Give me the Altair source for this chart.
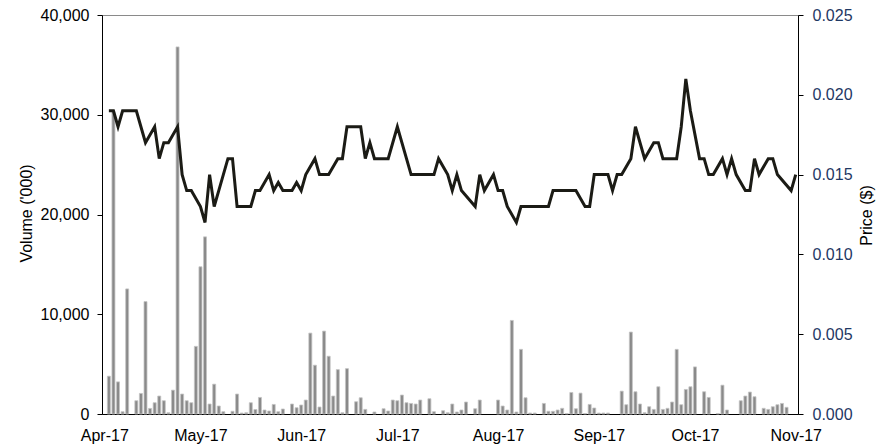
import altair as alt
import pandas as pd

N = None

# Trading-day slots (0..151)
volume = [
    0, 3790, 30300, 3220, 230, 12540, 0, 1330, 2060, 11270,
    560, 1130, 1800, 1330, 130, 2390, 36800, 2000, 1330, 1130,
    6780, 14760, 17760, 1000, 2990, 800, 230, 0, 270, 2000,
    100, 130, 1130, 450, 1660, 400, 300, 960, 230, 500,
    0, 1000, 630, 900, 1400, 8110, 4890, 700, 8310, 5790,
    1800, 4450, 130, 4550, 0, 1230, 1630, 460, 0, 200,
    0, 530, 300, 1400, 1330, 1900, 1130, 1060, 1000, 1400,
    0, 1530, 230, 0, 330, 130, 1000, 200, 400, 1200,
    0, 530, 1400, 0, 0, 0, 1400, 800, 400, 9380,
    200, 6480, 1630, 100, 100, 0, 1060, 270, 270, 400,
    570, 50, 2160, 530, 2095, 50, 960, 600, 100, 100,
    100, 0, 0, 2290, 930, 8215, 2230, 1000, 130, 730,
    460, 2730, 460, 570, 1200, 6480, 930, 2460, 2730, 4720,
    0, 2230, 1660, 0, 50, 2890, 400, 0, 0, 1330,
    1800, 2200, 1730, 0, 570, 460, 730, 930, 1060, 670,
    0, 0,
]

price = [
    N, .019, .019, .018, .019, .019, .019, .019, .018, .017,
    N, .018, .016, .017, .017, N, .018, .015, .014, .014,
    N, .013, .012, .015, .013, .014, N, .016, .016, .013,
    .013, .013, .013, .014, .014, N, .015, .014, .0145, .014,
    .014, .014, .0145, .014, .015, N, .016, .015, .015, .015,
    N, .016, .016, .018, .018, .018, .018, .016, .017, .016,
    .016, .016, .016, N, .018, N, .016, .015, .015, .015,
    .015, .015, .015, .016, N, .015, .014, .015, .014, N,
    N, .013, .015, .014, N, .015, .014, .014, .013, N,
    .012, .013, .013, .013, .013, .013, .013, .013, .014, .014,
    .014, .014, .014, .014, N, .013, .013, .015, .015, .015,
    .015, .014, .015, .015, N, .016, .018, N, .016, N,
    .017, .017, .016, .016, .016, .016, .018, .021, .019, N,
    .016, .016, .015, .015, N, .016, .015, .016, .015, N,
    .014, .014, .016, .015, N, .016, .016, .015, N, N,
    .014, .015,
]

month_labels = ["Apr-17", "May-17", "Jun-17", "Jul-17", "Aug-17", "Sep-17", "Oct-17", "Nov-17"]
month_slots = [0, 21, 43, 64, 86, 108, 129, 151]

vol_ticks = [0, 10000, 20000, 30000, 40000]
price_ticks = [0, 0.005, 0.010, 0.015, 0.020, 0.025]

slots = list(range(len(volume)))
vol_df = pd.DataFrame({"slot": slots, "volume": volume})
vol_df = vol_df[vol_df["volume"] > 0]
price_df = pd.DataFrame({"slot": slots[:len(price)], "price": price}).dropna()

FONT = "Liberation Sans"
label_expr = "[" + ",".join("'%s'" % m for m in month_labels) + "][indexof([" + \
    ",".join(str(s) for s in month_slots) + "], datum.value)]"

x_scale = alt.Scale(domain=[-0.5, len(volume) - 0.5], nice=False, zero=False, padding=0)
x_axis = alt.Axis(values=month_slots, labelExpr=label_expr, ticks=False, grid=False,
                  domainColor="#000000", domainWidth=1, labelFont=FONT, labelFontSize=16,
                  labelColor="#000000", labelPadding=13, title=None, labelFlush=False)

bars = alt.Chart(vol_df).mark_bar(size=3, color="#8a8a8a", stroke="#c4c4c4", strokeWidth=0.8).encode(
    x=alt.X("slot:Q", scale=x_scale, axis=x_axis),
    y=alt.Y("volume:Q", scale=alt.Scale(domain=[0, 40000], nice=False),
            axis=alt.Axis(values=vol_ticks, format=",d", grid=False, orient="left",
                          domainColor="#000000", tickColor="#000000", tickSize=5,
                          labelFont=FONT, labelFontSize=16, labelColor="#000000", labelPadding=8,
                          title="Volume ('000)", titleFont=FONT, titleFontSize=16,
                          titleFontWeight="normal", titleColor="#000000", titleAngle=270,
                          titleX=-76, titleY=198, titleAlign="center", titleBaseline="middle")),
)

line = alt.Chart(price_df).mark_line(color="#1b1b15", strokeWidth=3, strokeJoin="miter").encode(
    x=alt.X("slot:Q", scale=x_scale, axis=x_axis),
    y=alt.Y("price:Q", scale=alt.Scale(domain=[0, 0.025], nice=False),
            axis=alt.Axis(values=price_ticks, format=".3f", grid=False, orient="right",
                          domainColor="#000000", tickColor="#000000", tickSize=5,
                          labelFont=FONT, labelFontSize=16, labelColor="#1F3864", labelPadding=9,
                          title="Price ($)", titleFont=FONT, titleFontSize=16,
                          titleFontWeight="normal", titleColor="#000000", titleAngle=270,
                          titleX=68, titleY=200, titleAlign="center", titleBaseline="middle")),
)

chart = alt.layer(bars, line).resolve_scale(y="independent").properties(
    width=696, height=399,
    padding={"left": 94, "top": 7, "right": 80, "bottom": 30},
    autosize=alt.AutoSizeParams(type="none"),
).configure_view(stroke="#8a8a8a", strokeWidth=1)

chart.save("out.html", embed_options={"renderer": "svg", "actions": False})
